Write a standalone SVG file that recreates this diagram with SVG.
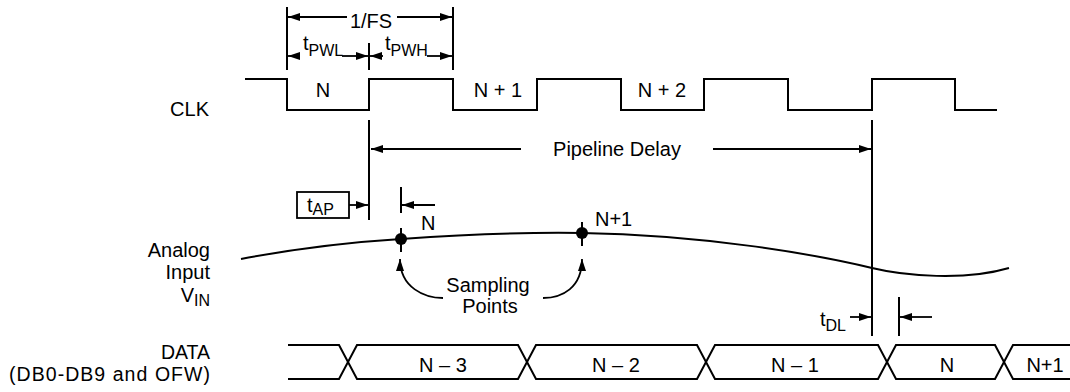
<svg xmlns="http://www.w3.org/2000/svg" width="1070" height="392" viewBox="0 0 1070 392">
<defs>
<marker id="ah" markerUnits="userSpaceOnUse" markerWidth="13" markerHeight="8" refX="12" refY="4" orient="auto"><path d="M0,0 L12,4 L0,8 Z" fill="#000"/></marker>
</defs>
<style>
text{font-family:"Liberation Sans",Arial,Helvetica,sans-serif;font-size:20px;fill:#000}
.s{font-size:16px}
.ln{stroke:#000;stroke-width:2;fill:none}
.ar{stroke:#000;stroke-width:1.8;fill:none;marker-end:url(#ah)}
.m{text-anchor:middle}
.e{text-anchor:end}
.sm{font-size:19.5px}
</style>
<rect width="1070" height="392" fill="#fff"/>
<g id="labels">
<text class="e" x="209" y="116">CLK</text>
<text class="e" x="210" y="257">Analog</text>
<text class="e" x="210" y="279">Input</text>
<text class="e" x="210" y="302">V<tspan class="s" dy="4">IN</tspan></text>
<text class="e sm" x="210" y="359">DATA</text>
<text class="sm" x="9" y="381" textLength="201" lengthAdjust="spacing">(DB0-DB9 and OFW)</text>
</g>
<g id="clk">
<path class="ln" d="M245,79 H287 V110 H369 V79 H453 V110 H537 V79 H621 V110 H704 V79 H788 V110 H872 V79 H955 V110 H997"/>
<text class="m" x="323" y="97">N</text>
<text class="m" x="498" y="97">N + 1</text>
<text class="m" x="662" y="97">N + 2</text>
</g>
<g id="period">
<path class="ln" d="M287,7 V70 M453,7 V70 M369,43 V70"/>
<path class="ar" d="M347,17 H288"/>
<path class="ar" d="M397,17 H452"/>
<text class="m" x="371" y="28">1/FS</text>
<path class="ar" d="M300,56 H288"/>
<path class="ar" d="M342,56 H368"/>
<path class="ar" d="M383,56 H370"/>
<path class="ar" d="M427,56 H452"/>
<text x="303" y="50">t<tspan class="s" dy="6">PWL</tspan></text>
<text x="385" y="50">t<tspan class="s" dy="6">PWH</tspan></text>
</g>
<g id="pipeline">
<path class="ln" d="M369,120 V220 M872,120 V336"/>
<path class="ar" d="M521,149 H371"/>
<path class="ar" d="M713,149 H871"/>
<text class="m" x="617" y="156">Pipeline Delay</text>
</g>
<g id="tap">
<rect x="297" y="192" width="52" height="26" fill="none" stroke="#000" stroke-width="1.8"/>
<text x="307" y="212">t<tspan class="s" dy="3">AP</tspan></text>
<path class="ar" d="M349,205 H368"/>
<path class="ln" d="M401,187 V213"/>
<path class="ar" d="M435,205 H402"/>
</g>
<g id="analog">
<path class="ln" d="M241,259 Q320,244 401,239 C460,235 530,232 582,233 C700,235 810,253 872,268 C905,276 965,281 1009,268"/>
<circle cx="401" cy="239" r="6" fill="#000"/>
<path class="ln" d="M401,228 V252 M582,222 V246"/>
<circle cx="582" cy="233" r="6" fill="#000"/>
<text x="421" y="230">N</text>
<text x="595" y="226">N+1</text>
<path class="ar" d="M443,298 C425,298 400,288 400,259"/>
<path class="ar" d="M543,298 C562,298 582,288 582,259"/>
<text class="m" x="488" y="292">Sampling</text>
<text class="m" x="490" y="313">Points</text>
</g>
<g id="tdl">
<text x="820" y="326">t<tspan class="s" dy="5">DL</tspan></text>
<path class="ar" d="M850,317 H871"/>
<path class="ln" d="M899,297 V336"/>
<path class="ar" d="M932,317 H900"/>
</g>
<g id="data">
<path class="ln" d="M288,345 H339 L357,379 H518 L536,345 H697 L715,379 H878 L896,345 H995 L1013,379 H1070"/>
<path class="ln" d="M288,379 H339 L357,345 H518 L536,379 H697 L715,345 H878 L896,379 H995 L1013,345 H1070"/>
<text class="m" x="443" y="372">N – 3</text>
<text class="m" x="616" y="372">N – 2</text>
<text class="m" x="795" y="372">N – 1</text>
<text class="m" x="947" y="372">N</text>
<text class="m" x="1045" y="372">N+1</text>
</g>
</svg>
